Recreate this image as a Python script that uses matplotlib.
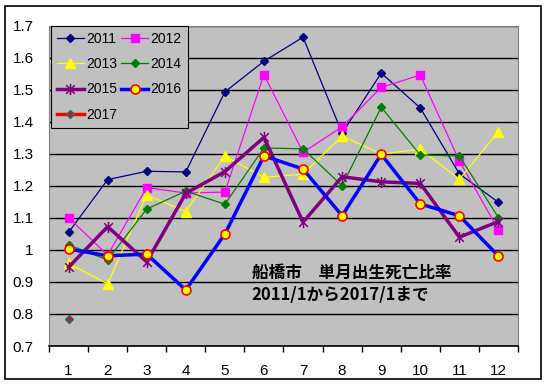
import matplotlib.pyplot as plt
import numpy as np
from matplotlib.path import Path
from matplotlib.patches import Rectangle

plt.rcParams['font.family'] = ['Liberation Sans', 'Noto Sans CJK JP', 'DejaVu Sans']

months = list(range(1, 13))
y2011 = [1.055, 1.22, 1.246, 1.244, 1.494, 1.59, 1.665, 1.365, 1.553, 1.444, 1.238, 1.149]
y2012 = [1.101, 0.984, 1.195, 1.178, 1.181, 1.548, 1.305, 1.385, 1.508, 1.547, 1.278, 1.063]
y2013 = [0.958, 0.894, 1.172, 1.12, 1.294, 1.227, 1.237, 1.356, 1.30, 1.315, 1.221, 1.37]
y2014 = [1.016, 0.969, 1.128, 1.184, 1.143, 1.319, 1.316, 1.201, 1.446, 1.297, 1.294, 1.101]
y2015 = [0.946, 1.073, 0.963, 1.177, 1.245, 1.352, 1.087, 1.229, 1.213, 1.208, 1.04, 1.089]
y2016 = [1.003, 0.982, 0.987, 0.875, 1.05, 1.294, 1.253, 1.107, 1.299, 1.144, 1.107, 0.981]
y2017 = [0.783]

# excel-like star marker: X plus a vertical bar
star = Path([(-1, -1), (1, 1), (-1, 1), (1, -1), (0, -1.3), (0, 1.3)],
            [Path.MOVETO, Path.LINETO, Path.MOVETO, Path.LINETO, Path.MOVETO, Path.LINETO])

fig = plt.figure(figsize=(5.48, 3.85), dpi=100)
fig.patches.append(Rectangle((5 / 548, 6 / 385), 536 / 548, 373 / 385, transform=fig.transFigure,
                             fill=False, edgecolor='black', linewidth=1.2))
ax = fig.add_axes([49 / 548, 1 - 346 / 385, 469 / 548, 320 / 385])
ax.set_facecolor('#C0C0C0')

h = {}
h['2011'], = ax.plot(months, y2011, color='#000080', lw=0.9, marker='D', ms=4.5, mfc='#000080', mec='#000080')
h['2012'], = ax.plot(months, y2012, color='#FF00FF', lw=0.9, marker='s', ms=6, mfc='#FF00FF', mec='#FF00FF')
h['2013'], = ax.plot(months, y2013, color='#FFFF00', lw=0.9, marker='^', ms=6.5, mfc='#FFFF00', mec='#FFFF00')
h['2014'], = ax.plot(months, y2014, color='#008000', lw=0.9, marker='D', ms=4.5, mfc='#008000', mec='#008000')
h['2015'], = ax.plot(months, y2015, color='#800080', lw=2.5, marker=star, ms=8, mfc='none', mec='#800080', mew=1.1)
h['2016'], = ax.plot(months, y2016, color='#0000FF', lw=2.5, marker='o', ms=6.5, mfc='#FFFF00', mec='#FF0000', mew=1.2)
h['2017'], = ax.plot(months[:1], y2017, color='#FF0000', lw=2.5, marker='D', ms=4, mfc='#FF0000', mec='#008080')

ax.set_xlim(0.5, 12.5)
ax.set_ylim(0.7, 1.7)
yt = np.round(np.arange(0.7, 1.71, 0.1), 1)
ax.set_yticks(yt)
ax.set_yticklabels(['1' if v == 1 else f'{v:.1f}' for v in yt])
ax.set_xticks(months)
ax.set_xticks(np.arange(0.5, 12.6, 1), minor=True)
ax.tick_params(axis='x', which='major', length=0, pad=13, labelsize=11)
ax.tick_params(axis='x', which='minor', length=4, width=1, direction='out')
ax.tick_params(axis='y', length=0, pad=11, labelsize=11)
ax.grid(axis='y', color='black', lw=1)
ax.set_axisbelow(True)
for s in ['top', 'right', 'left']:
    ax.spines[s].set_color('#808080')
ax.spines['bottom'].set_color('black')
ax.spines['bottom'].set_linewidth(1.2)

order = ['2011', '2013', '2015', '2017', '2012', '2014', '2016']
leg = ax.legend([h[k] for k in order], order, loc='upper left', bbox_to_anchor=(0.004, 1.0),
                ncol=2, fontsize=10, frameon=True, fancybox=False, borderaxespad=0,
                handlelength=1.9, handletextpad=0.2, columnspacing=0.3, labelspacing=0.8,
                borderpad=0.45)
leg.get_frame().set_facecolor('#C0C0C0')
leg.get_frame().set_edgecolor('black')
leg.get_frame().set_linewidth(0.8)
leg.get_frame().set_alpha(1)

ax.text(0.432, 0.195, '船橋市　単月出生死亡比率\n2011/1から2017/1まで', transform=ax.transAxes,
        family=['Noto Sans CJK JP', 'DejaVu Sans'], fontsize=12, fontweight='bold',
        va='center', ha='left', linespacing=1.3)

fig.savefig('out.png', dpi=100)
